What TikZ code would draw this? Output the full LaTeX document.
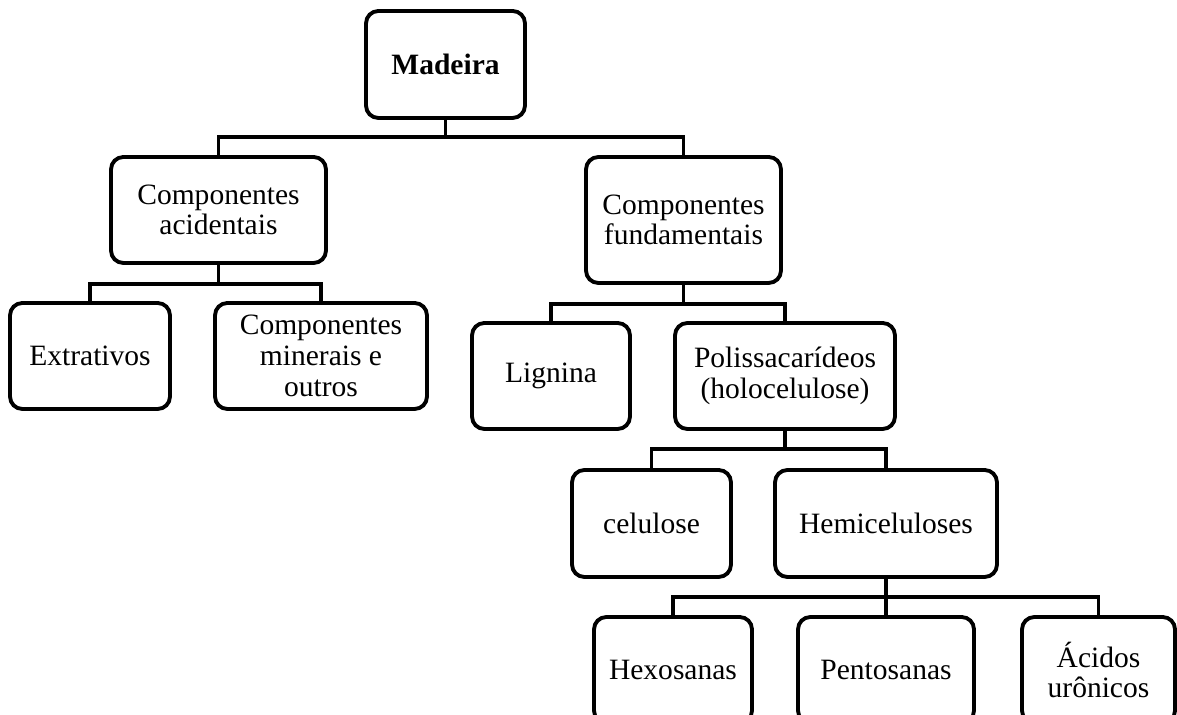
\documentclass[tikz,border=0pt]{standalone}
\usepackage{fontspec}
\setmainfont{Liberation Serif}
\usetikzlibrary{calc}

\begin{document}
\begin{tikzpicture}[x=0.02cm, y=-0.02cm,
	caixa/.style={draw, line width=2.2pt, rounded corners=7pt, align=center,
		minimum height=2.12cm, inner sep=2pt,
		font=\fontsize{16.8}{17.5}\selectfont},
	liga/.style={line width=2pt}]
	\useasboundingbox (0,0) rectangle (1177,715);
	
	% raiz
	\node[caixa, minimum width=3.18cm, minimum height=2.14cm,
		font=\fontsize{16.8}{17.5}\selectfont\bfseries] (madeira) at (445.5,64.5) {Madeira};
	
	% nivel 1
	\node[caixa, minimum width=4.30cm] (acid) at (218.5,210) {Componentes\\acidentais};
	\node[caixa, minimum width=3.90cm, minimum height=2.52cm] (fund) at (683.5,220) {Componentes\\fundamentais};
	
	% nivel 2
	\node[caixa, minimum width=3.20cm] (extr) at (90,356) {Extrativos};
	\node[caixa, minimum width=4.24cm] (miner) at (321,356) {Componentes\\minerais e\\outros};
	\node[caixa, minimum width=3.16cm] (lign) at (551,376) {Lignina};
	\node[caixa, minimum width=4.40cm] (polis) at (785,376) {Polissacarídeos\\(holocelulose)};
	
	% nivel 3
	\node[caixa, minimum width=3.18cm, minimum height=2.14cm] (celu) at (651.5,523.5) {celulose};
	\node[caixa, minimum width=4.44cm, minimum height=2.14cm] (hemi) at (886,523.5) {Hemiceluloses};
	
	% nivel 4
	\node[caixa, minimum width=3.16cm] (hexo) at (673,670) {Hexosanas};
	\node[caixa, minimum width=3.52cm] (pento) at (886,670) {Pentosanas};
	\node[caixa, minimum width=3.06cm] (acidos) at (1098.5,670) {Ácidos\\urônicos};
	
	% ligacoes
	\coordinate (bus1) at (0,137);
	\coordinate (bus2) at (0,284);
	\coordinate (bus3) at (0,304);
	\coordinate (bus4) at (0,449);
	\coordinate (bus5) at (0,597);
	
	\foreach \f in {acid,fund}
		\draw[liga] (madeira.south) -- (madeira.south |- bus1) -| (\f.north);
	\foreach \f in {extr,miner}
		\draw[liga] (acid.south) -- (acid.south |- bus2) -| (\f.north);
	\foreach \f in {lign,polis}
		\draw[liga] (fund.south) -- (fund.south |- bus3) -| (\f.north);
	\foreach \f in {celu,hemi}
		\draw[liga] (polis.south) -- (polis.south |- bus4) -| (\f.north);
	\foreach \f in {hexo,pento,acidos}
		\draw[liga] (hemi.south) -- (hemi.south |- bus5) -| (\f.north);
	
\end{tikzpicture}
\end{document}
